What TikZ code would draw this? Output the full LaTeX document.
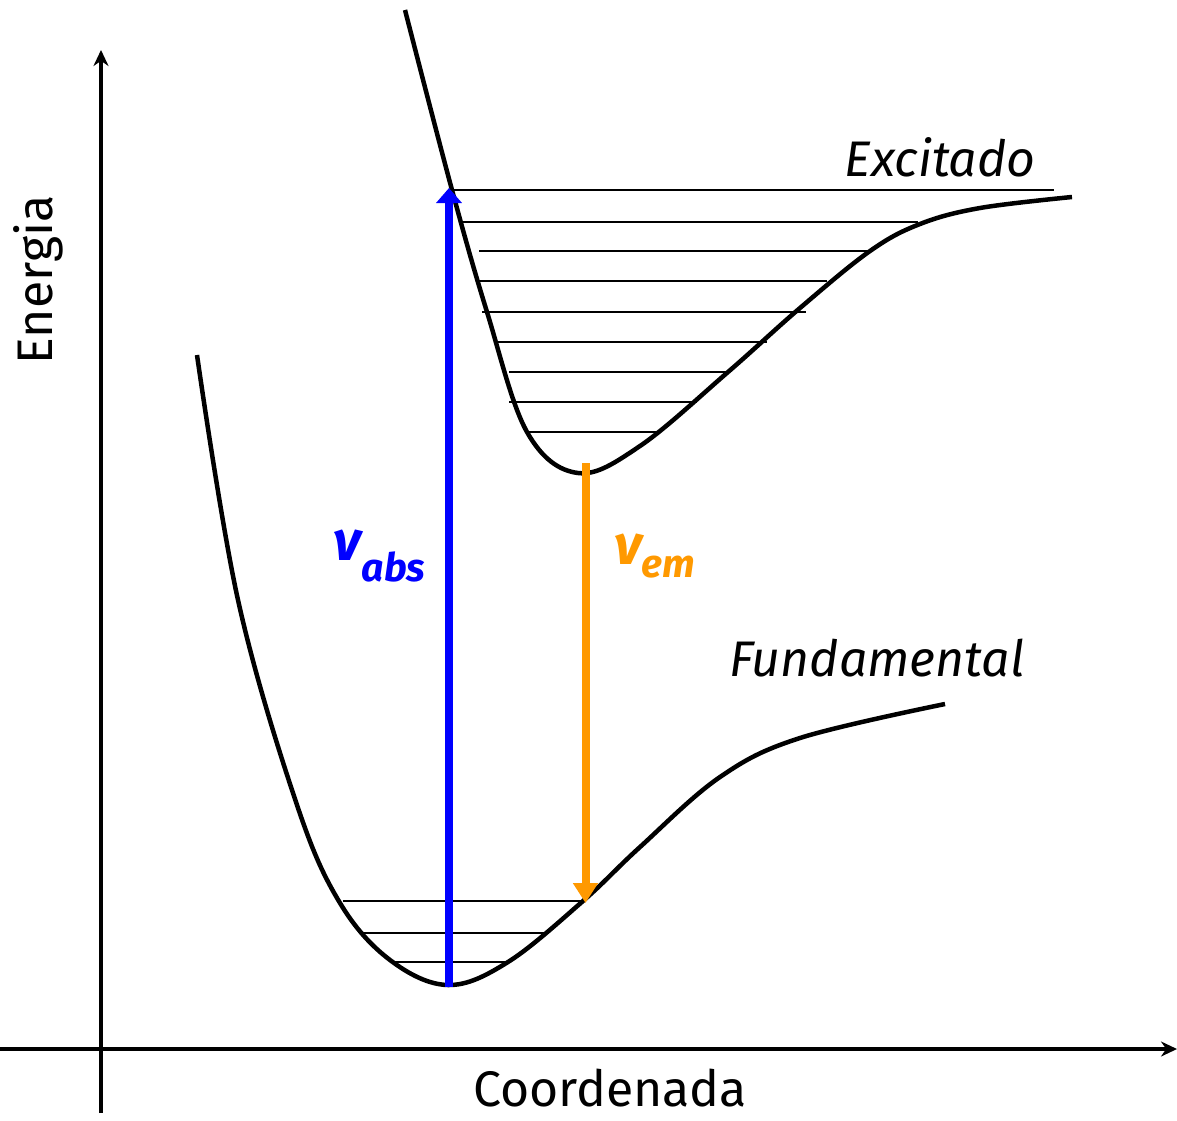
\documentclass[tikz,border=0pt]{standalone}
\usepackage{fontspec}
\setmainfont{Fira Sans}
\usetikzlibrary{arrows.meta}
\definecolor{abscolor}{RGB}{0,0,255}
\definecolor{emcolor}{RGB}{255,153,0}

\begin{document}
\begin{tikzpicture}[yscale=-1
,pstyle0/.style={color=black,line width=4.5pt,line join=round}
,pstyle1/.style={color=black,line width=2pt}
,pstyle2/.style={color=black,line width=3.5pt,-{Stealth[length=16pt,width=15pt]}}
,pstyle3/.style={color=abscolor,line width=8pt,-{Triangle[length=15pt,width=25pt]}}
,pstyle4/.style={color=emcolor,line width=8pt,-{Triangle[length=20pt,width=24pt]}}
,lbl/.style={color=black,inner sep=0,font=\fontsize{50}{60}\selectfont}
]
\useasboundingbox (0pt,0pt) rectangle (1177pt,1120pt);
% axes
\coordinate (xorig) at (0pt,1049pt);
\coordinate (xend) at (1177pt,1049pt);
\coordinate (yorig) at (101pt,1113pt);
\coordinate (yend) at (101pt,50pt);
\draw[pstyle2] (xorig) -- (xend);
\draw[pstyle2] (yorig) -- (yend);
\node[lbl,rotate=90] (energia) at (38pt,280pt) {Energia};
\node[lbl,anchor=base] (coord) at (610pt,1106pt) {Coordenada};
% ground state
\draw[pstyle0] plot[smooth,tension=0.6] coordinates {(197pt,355pt) (238pt,600pt) (297pt,805pt) (340pt,903pt) (390pt,960pt) (448pt,985pt) (508pt,962pt) (583pt,901pt) (640pt,847pt) (720pt,777pt) (800pt,738pt) (945pt,704pt)};
\foreach \y/\xa/\xb in {901/343/583,933/363/545,962/390/508}
  \draw[pstyle1] (\xa pt,\y pt) -- (\xb pt,\y pt);
\node[lbl,font=\fontsize{50}{60}\selectfont\itshape] (fund) at (877pt,658pt) {Fundamental};
% excited state
\draw[pstyle0] plot[smooth,tension=0.6] coordinates {(405pt,10pt) (452pt,190pt) (487pt,312pt) (527pt,432pt) (578pt,473pt) (640pt,446pt) (728pt,372pt) (800pt,308pt) (870pt,251pt) (920pt,224pt) (980pt,208pt) (1072pt,197pt)};
\foreach \y/\xa/\xb in {190/450/1054,222/463/918,251/479/870,281/479/827,312/482/806,342/498/767,372/509/728,402/509/697,432/525/661}
  \draw[pstyle1] (\xa pt,\y pt) -- (\xb pt,\y pt);
\node[lbl,font=\fontsize{50}{60}\selectfont\itshape] (exc) at (940pt,157pt) {Excitado};
% transitions
\coordinate (absbot) at (449pt,987pt);
\coordinate (abstop) at (449pt,188pt);
\coordinate (emtop) at (585.5pt,463pt);
\coordinate (embot) at (585.5pt,903pt);
\draw[pstyle3] (absbot) -- (abstop);
\draw[pstyle4] (emtop) -- (embot);
\node[lbl,color=abscolor,font=\fontsize{56}{60}\selectfont\bfseries\itshape] (nuabs) at (380pt,556pt) {ν\textsubscript{abs}};
\node[lbl,color=emcolor,font=\fontsize{56}{60}\selectfont\bfseries\itshape] (nuem) at (655pt,556pt) {ν\textsubscript{em}};
\end{tikzpicture}
\end{document}
